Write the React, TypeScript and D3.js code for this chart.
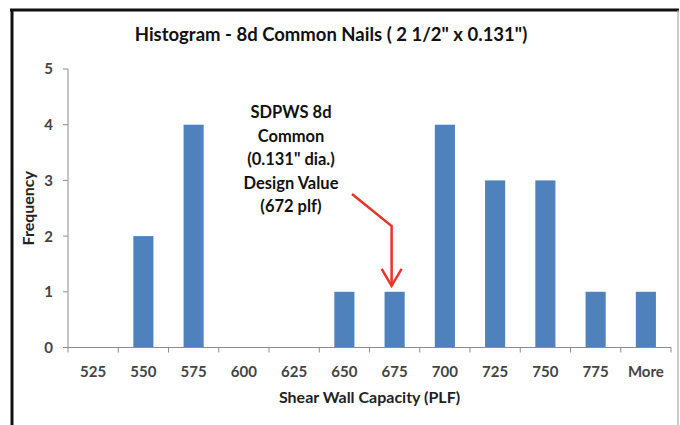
import { useRef, useEffect } from "react"
import * as d3 from "d3"

const bins = ["525", "550", "575", "600", "625", "650", "675", "700", "725", "750", "775", "More"]
const frequency = [0, 2, 4, 0, 0, 1, 1, 4, 3, 3, 1, 1]
const yTicks = [0, 1, 2, 3, 4, 5]
const noteLines = ["SDPWS 8d", "Common", "(0.131\" dia.)", "Design Value", "(672 plf)"]

const FONT = "Lato, 'Open Sans', sans-serif"

export default function App() {
  const svgRef = useRef<SVGSVGElement>(null)

  useEffect(() => {
    if (!svgRef.current) return
    const svg = d3.select(svgRef.current)
    svg.selectAll("*").remove()

    const width = 680
    const height = 425
    const margin = { top: 69, right: 9, bottom: 77, left: 68 }

    // outer frame (black left/top, thin grey right)
    svg.append("rect").attr("width", width).attr("height", height).attr("fill", "white")
    svg.append("line").attr("x1", 12).attr("x2", 12).attr("y1", 9).attr("y2", height).attr("stroke", "#111").attr("stroke-width", 3)
    svg.append("line").attr("x1", 10).attr("x2", 679).attr("y1", 10).attr("y2", 10).attr("stroke", "#111").attr("stroke-width", 3)
    svg.append("line").attr("x1", 678).attr("x2", 678).attr("y1", 10).attr("y2", height).attr("stroke", "#999").attr("stroke-width", 1)

    const x = d3
      .scaleBand<string>()
      .domain(bins)
      .range([margin.left, width - margin.right])
      .paddingInner(0.6)
      .paddingOuter(0.3)

    const y = d3
      .scaleLinear()
      .domain([0, 5])
      .range([height - margin.bottom - 0.5, margin.top])

    const step = x.step()
    const axisColor = "#8c8c8c"

    // y axis
    svg.append("line")
      .attr("x1", margin.left).attr("x2", margin.left)
      .attr("y1", y(5)).attr("y2", y(0))
      .attr("stroke", axisColor)
    yTicks.forEach((t) => {
      svg.append("line")
        .attr("x1", margin.left - 5).attr("x2", margin.left)
        .attr("y1", y(t)).attr("y2", y(t))
        .attr("stroke", axisColor)
      svg.append("text")
        .attr("x", margin.left - 15)
        .attr("y", y(t))
        .attr("dy", "0.36em")
        .attr("text-anchor", "end")
        .attr("font-family", FONT)
        .attr("font-size", "15px")
        .attr("font-weight", "bold")
        .attr("fill", "#444")
        .text(t)
    })

    // bars
    svg.selectAll("rect.bar")
      .data(bins.map((b, i) => ({ bin: b, value: frequency[i] })))
      .join("rect")
      .attr("class", "bar")
      .attr("x", (d) => x(d.bin)!)
      .attr("width", x.bandwidth())
      .attr("y", (d) => y(d.value))
      .attr("height", (d) => y(0) - y(d.value))
      .attr("fill", "#4f81bd")

    // x axis
    svg.append("line")
      .attr("x1", margin.left).attr("x2", width - margin.right)
      .attr("y1", y(0)).attr("y2", y(0))
      .attr("stroke", axisColor)
    d3.range(bins.length + 1).forEach((i) => {
      const tx = margin.left + i * step
      svg.append("line")
        .attr("x1", tx).attr("x2", tx)
        .attr("y1", y(0)).attr("y2", y(0) + 5)
        .attr("stroke", axisColor)
    })
    bins.forEach((b) => {
      svg.append("text")
        .attr("x", x(b)! + x.bandwidth() / 2)
        .attr("y", y(0) + 29)
        .attr("text-anchor", "middle")
        .attr("font-family", FONT)
        .attr("font-size", "15px")
        .attr("font-weight", "bold")
        .attr("fill", "#444")
        .text(b)
    })

    // titles
    svg.append("text")
      .attr("x", 331)
      .attr("y", 41)
      .attr("text-anchor", "middle")
      .attr("font-family", FONT)
      .attr("font-size", "18.5px")
      .attr("font-weight", "bold")
      .attr("fill", "#111")
      .text("Histogram - 8d Common Nails ( 2 1/2\" x 0.131\")")

    svg.append("text")
      .attr("x", (margin.left + width - margin.right) / 2)
      .attr("y", 403)
      .attr("text-anchor", "middle")
      .attr("font-family", FONT)
      .attr("font-size", "16px")
      .attr("font-weight", "bold")
      .attr("fill", "#222")
      .text("Shear Wall Capacity (PLF)")

    svg.append("text")
      .attr("transform", `translate(34, ${(y(0) + y(5)) / 2}) rotate(-90)`)
      .attr("text-anchor", "middle")
      .attr("font-family", FONT)
      .attr("font-size", "16px")
      .attr("font-weight", "bold")
      .attr("fill", "#222")
      .text("Frequency")

    // annotation
    const note = svg.append("text")
      .attr("font-family", FONT)
      .attr("font-size", "16.5px")
      .attr("font-weight", "bold")
      .attr("fill", "#111")
      .attr("text-anchor", "middle")
    noteLines.forEach((line, i) => {
      note.append("tspan").attr("x", 291).attr("y", 118 + i * 23.5).text(line)
    })

    const ax = x("675")! + x.bandwidth() / 2 - 3
    const tipY = y(1) - 6
    svg.append("path")
      .attr("d", `M352,194 L${ax},226 L${ax},${tipY}`)
      .attr("fill", "none")
      .attr("stroke", "#e8342a")
      .attr("stroke-width", 2.5)
    svg.append("path")
      .attr("d", `M${ax - 10},${tipY - 17} L${ax},${tipY} L${ax + 10},${tipY - 17}`)
      .attr("fill", "none")
      .attr("stroke", "#e8342a")
      .attr("stroke-width", 2.5)
  }, [])

  return (
    <svg
      ref={svgRef}
      width={680}
      height={425}
      style={{ position: "absolute", left: 0, top: 0, display: "block" }}
    />
  )
}
